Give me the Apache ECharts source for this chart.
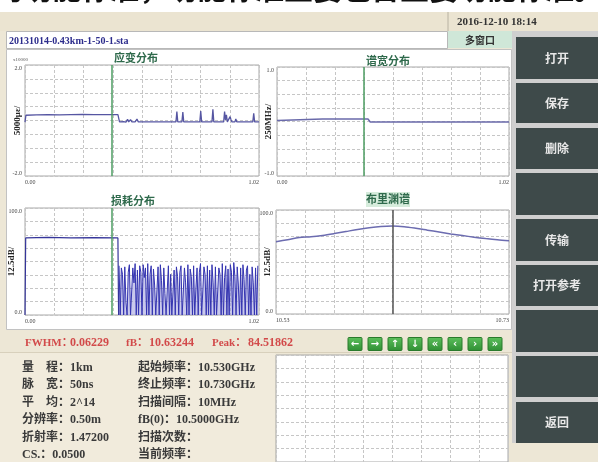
<!DOCTYPE html>
<html>
<head>
<meta charset="utf-8">
<script src="https://cdn.jsdelivr.net/npm/echarts@6/dist/echarts.min.js"></script>
<style>
  html, body { margin: 0; padding: 0; background: #ede7d6; }
  #main { width: 598px; height: 462px; }
</style>
</head>
<body>
<div id="main"></div>
<script>
// axis end labels
const distLabels = ['0.00', '1.02'];
const freqLabels = ['10.53', '10.73'];
const strainLabels = ['2.0', '-2.0'];
const widthLabels = ['1.0', '-1.0'];
const lossLabels = ['100.0', '0.0'];
const markerKm = 0.3825;
const markerGHz = 10.63;

// 应变分布 [km, x10000]
const strainPts = [
  [0, -0.06], [0.004, 0.19], [0.05, 0.2], [0.1, 0.21], [0.15, 0.2], [0.2, 0.21], [0.25, 0.22],
  [0.3, 0.21], [0.35, 0.21], [0.405, 0.21], [0.412, -0.05], [0.43, -0.04], [0.44, -0.06],
  [0.447, 0.04], [0.452, -0.05], [0.46, 0.03], [0.466, -0.05], [0.48, -0.05], [0.488, 0.05],
  [0.494, -0.05], [0.658, -0.05], [0.662, 0.32], [0.666, -0.05], [0.684, -0.05], [0.688, 0.3],
  [0.692, -0.05], [0.762, -0.05], [0.766, 0.34], [0.77, -0.05], [0.815, -0.05], [0.819, 0.4],
  [0.823, -0.05], [0.866, -0.05], [0.87, 0.32], [0.874, 0.02], [0.878, 0.2], [0.882, -0.05],
  [0.89, -0.05], [0.894, 0.14], [0.898, 0.03], [0.902, -0.05], [0.915, -0.05], [0.919, 0.06],
  [0.923, -0.05], [0.993, -0.05], [0.997, 0.26], [1.001, -0.05], [1.02, -0.05]
];

// 谱宽分布 [km, x250MHz]
const widthPts = [[0, 0.02], [0.005, 0.045], [0.2, 0.045], [0.4, 0.045], [0.41, -0.01], [1.02, -0.01]];

// 损耗分布: flat part [km, dB] and noisy samples every 5 m from 0.41 km
const lossFlat = [[0, 0], [0.003, 72], [0.1, 72.5], [0.2, 72], [0.3, 72.3], [0.405, 72], [0.408, 0]];
const lossStart = 0.41;
const lossStep = 0.005;
const lossNoise = [
  46, 0, 44, 38, 0, 45, 12, 0, 40, 47, 0, 0, 44, 30, 48, 0, 42, 0,
  46, 40, 0, 47, 35, 44, 0, 48, 0, 38, 46, 0, 43, 28, 0, 0, 45, 0, 47, 32,
  0, 44, 20, 0, 0, 46, 0, 38, 0, 0, 42, 0, 45, 36, 0, 40, 46, 0, 0, 44,
  30, 0, 47, 0, 43, 36, 0, 46, 0, 25, 44, 0, 40, 48, 0, 0, 45, 38, 0, 46,
  0, 42, 0, 47, 30, 0, 45, 0, 0, 44, 38, 0, 48, 0, 35, 46, 0, 43, 0, 47,
  40, 0, 49, 36, 0, 45, 28, 0, 44, 0, 47, 33, 0, 42, 46, 0, 38, 0, 45, 30, 0, 44, 0, 46
];

// 布里渊谱 [GHz, dB]
const bFreq = [10.53, 10.54, 10.55, 10.56, 10.57, 10.58, 10.59, 10.60, 10.61, 10.62, 10.63,
  10.64, 10.65, 10.66, 10.67, 10.68, 10.69, 10.70, 10.71, 10.72, 10.73];
const bGain = [69.5, 71.5, 73.5, 74.2, 75.5, 77.3, 79.3, 81.3, 83.0, 84.2, 84.5,
  83.9, 82.4, 80.6, 78.8, 77.0, 75.4, 73.9, 72.5, 71.3, 70.4];

const fileName = '20131014-0.43km-1-50-1.sta';
const dateText = '2016-12-10 18:14';
const statusLabels = ['FWHM：', 'fB：', 'Peak：'];
const statusValues = ['0.06229', '10.63244', '84.51862'];
const navIcons = ['←', '→', '↑', '↓', '«', '‹', '›', '»'];
const buttons = ['打开', '保存', '删除', '', '传输', '打开参考', '', '', '返回'];
const infoLeft = ['量　程：1km', '脉　宽：50ns', '平　均：2^14', '分辨率：0.50m', '折射率：1.47200', 'CS.：0.0500'];
const infoRight = ['起始频率：10.530GHz', '终止频率：10.730GHz', '扫描间隔：10MHz', 'fB(0)：10.5000GHz', '扫描次数：', '当前频率：'];

const serif = '"Liberation Serif", "DejaVu Serif", "Noto Sans CJK SC", serif';
const gridLine = { color: '#c6c6c6', type: [3, 2], width: 1 };

function xAxisOf(gi, min, max, interval, labels, split) {
  return {
    type: 'value', gridIndex: gi, min: min, max: max, interval: interval,
    axisLine: { show: false }, axisTick: { show: false },
    splitLine: { show: split, lineStyle: gridLine },
    axisLabel: {
      show: !!labels, fontSize: 6, color: '#444', fontFamily: serif, margin: 3,
      showMinLabel: true, showMaxLabel: true, alignMinLabel: 'left', alignMaxLabel: 'right',
      formatter: function (v) {
        if (!labels) return '';
        if (Math.abs(v - min) < 1e-6) return labels[0];
        if (Math.abs(v - max) < 1e-6) return labels[1];
        return '';
      }
    }
  };
}

function yAxisOf(gi, min, max, interval, labels, name, gap) {
  return {
    type: 'value', gridIndex: gi, min: min, max: max, interval: interval,
    axisLine: { show: false }, axisTick: { show: false },
    splitLine: { show: true, lineStyle: gridLine },
    name: name, nameLocation: 'middle', nameRotate: 90, nameGap: gap, nameMoveOverlap: false,
    nameTextStyle: { fontSize: 9, fontWeight: 'bold', color: '#222', fontFamily: serif },
    axisLabel: {
      show: !!labels, fontSize: 6, color: '#444', fontFamily: serif, margin: 3,
      showMinLabel: true, showMaxLabel: true,
      verticalAlignMinLabel: 'bottom', verticalAlignMaxLabel: 'top',
      formatter: function (v) {
        if (!labels) return '';
        if (Math.abs(v - max) < 1e-6) return labels[0];
        if (Math.abs(v - min) < 1e-6) return labels[1];
        return '';
      }
    }
  };
}

function marker(x, color) {
  return {
    silent: true, symbol: ['none', 'none'], label: { show: false },
    lineStyle: { color: color, width: 1.5, type: 'solid' },
    data: [{ xAxis: x }]
  };
}

const grids = [
  { left: 25, top: 65, width: 234, height: 111 },
  { left: 277, top: 67, width: 232, height: 109 },
  { left: 25, top: 208, width: 234, height: 107 },
  { left: 276, top: 210, width: 233, height: 104 },
  { left: 276, top: 355, width: 232, height: 107 }
].map(function (g) {
  return Object.assign({ show: true, borderColor: '#a9a9a9', borderWidth: 1, backgroundColor: '#fff', outerBoundsMode: 'none' }, g);
});

// ---- graphic chrome ----
const g = [];
function rect(x, y, w, h, fill, stroke, z) {
  g.push({ type: 'rect', z: z == null ? -10 : z, silent: true, shape: { x: x, y: y, width: w, height: h },
    style: { fill: fill, stroke: stroke || null, lineWidth: 1 } });
}
function text(x, y, str, font, fill, align) {
  g.push({ type: 'text', z: 10, silent: true, x: x, y: y,
    style: { text: str, font: font, fill: fill, textAlign: align || 'left', textVerticalAlign: 'middle' } });
}

rect(0, 0, 598, 12, '#ffffff');
text(-6, -11, '的功能标准，功能标准主要包含主要功能标准。', 'bold 29px "Noto Sans CJK SC"', '#111');
rect(0, 12, 598, 19, '#ebe4d1', null, -9);
g.push({ type: 'line', z: -8, silent: true, shape: { x1: 448, y1: 12, x2: 448, y2: 31 }, style: { stroke: '#b8b2a2', lineWidth: 1 } });
text(457, 22, dateText, 'bold 11px ' + serif, '#333');
rect(6.5, 31.5, 441, 17, '#ffffff', '#b8b8b8');
text(9, 41, fileName, 'bold 10px ' + serif, '#2c2c8c');
rect(448, 31, 64, 17, '#cfe7d8');
text(480, 40, '多窗口', 'bold 10px "Noto Sans CJK SC"', '#333', 'center');
rect(6.5, 49.5, 505, 280, '#ffffff', '#c2c2c2');

// plot titles
rect(366, 192, 44, 15, '#d6ecdc');
text(136, 58, '应变分布', 'bold 11px "Noto Sans CJK SC"', '#2f6a4c', 'center');
text(388, 61, '谱宽分布', 'bold 11px "Noto Sans CJK SC"', '#2f6a4c', 'center');
text(133, 201, '损耗分布', 'bold 11px "Noto Sans CJK SC"', '#2f6a4c', 'center');
text(388, 199, '布里渊谱', 'bold 11px "Noto Sans CJK SC"', '#2f6a4c', 'center');
text(13, 60, 'x10000', '5px ' + serif, '#555');

// status bar
const statusX = [[25, 70], [126, 149], [212, 248]];
statusLabels.forEach(function (s, i) {
  text(statusX[i][0], 343, s, 'bold 11px ' + serif, '#d24a4a');
  text(statusX[i][1], 343, statusValues[i], 'bold 12px ' + serif, '#d24a4a');
});
navIcons.forEach(function (s, i) {
  const x = 348 + i * 20;
  g.push({ type: 'rect', z: 5, silent: true, shape: { x: x, y: 337.5, width: 14, height: 13, r: 1 },
    style: { fill: new echarts.graphic.LinearGradient(0, 0, 0, 1, [{ offset: 0, color: '#5cc05c' }, { offset: 1, color: '#2f8f34' }]), stroke: '#2a7a2c', lineWidth: 1 } });
  text(x + 7, 344, s, 'bold 10px "DejaVu Sans"', '#ffffff', 'center');
});

// info panel
rect(0, 352, 275, 110, '#f1ebdc');
g.push({ type: 'line', z: -9, silent: true, shape: { x1: 0, y1: 352.5, x2: 512, y2: 352.5 }, style: { stroke: '#d8d0bc', lineWidth: 1 } });
infoLeft.forEach(function (s, i) {
  text(22, 368 + i * 17.4, s, 'bold 12px ' + serif, '#3a3a3a');
});
infoRight.forEach(function (s, i) {
  text(138, 368 + i * 17.4, s, 'bold 12px ' + serif, '#3a3a3a');
});

// right button column
rect(512, 30, 86, 413, '#cfcfcf');
const btnY = [[37, 79], [83, 123], [128, 169], [173, 215], [219, 261], [265, 306], [310, 352], [356, 397], [402, 443]];
buttons.forEach(function (s, i) {
  rect(516, btnY[i][0], 82, btnY[i][1] - btnY[i][0], '#3e4a4a', null, -8);
  if (s) text(557, (btnY[i][0] + btnY[i][1]) / 2, s, 'bold 12px "Noto Sans CJK SC"', '#e8e8e8', 'center');
});

const option = {
  animation: false,
  backgroundColor: '#ede7d6',
  grid: grids,
  xAxis: [
    xAxisOf(0, 0, 1.02, 0.1275, distLabels, true),
    xAxisOf(1, 0, 1.02, 0.1275, distLabels, true),
    xAxisOf(2, 0, 1.02, 0.1275, distLabels, true),
    xAxisOf(3, 10.53, 10.73, 0.2, freqLabels, false),
    Object.assign(xAxisOf(3, 0, 8, 1, null, true), { position: 'top' }),
    xAxisOf(4, 0, 8, 1, null, true)
  ],
  yAxis: [
    yAxisOf(0, -2, 2, 0.5, strainLabels, '5000με/', 3),
    yAxisOf(1, -1, 1, 0.25, widthLabels, '250MHz/', 4),
    yAxisOf(2, 0, 100, 12.5, lossLabels, '12.5dB/', 9),
    yAxisOf(3, 0, 100, 12.5, lossLabels, '12.5dB/', 4),
    yAxisOf(4, 0, 8, 1, null, '', 0)
  ],
  graphic: g,
  series: [
    {
      type: 'line', xAxisIndex: 0, yAxisIndex: 0, data: strainPts, showSymbol: false,
      lineStyle: { color: '#5656a2', width: 1.3 }, markLine: marker(markerKm, '#4c9c62')
    },
    {
      type: 'line', xAxisIndex: 1, yAxisIndex: 1, data: widthPts, showSymbol: false,
      lineStyle: { color: '#6a6aaa', width: 1.5 }, markLine: marker(markerKm, '#4c9c62')
    },
    {
      type: 'line', xAxisIndex: 2, yAxisIndex: 2, data: lossFlat, showSymbol: false,
      lineStyle: { color: '#35359a', width: 1.2 }, markLine: marker(markerKm, '#4c9c62')
    },
    {
      type: 'line', xAxisIndex: 2, yAxisIndex: 2, showSymbol: false,
      data: lossNoise.map(function (v, i) { return [lossStart + i * lossStep, v]; }),
      lineStyle: { color: '#3434b0', width: 1 },
      areaStyle: { color: '#9c9cdc', opacity: 0.55 }
    },
    {
      type: 'line', xAxisIndex: 3, yAxisIndex: 3, showSymbol: false,
      data: bFreq.map(function (f, i) { return [f, bGain[i]]; }), smooth: 0.3,
      lineStyle: { color: '#6c6cb0', width: 1.5 }, markLine: marker(markerGHz, '#555')
    }
  ]
};

const chart = echarts.init(document.getElementById('main'), null, { renderer: 'canvas' });
chart.setOption(option);
</script>
</body>
</html>
